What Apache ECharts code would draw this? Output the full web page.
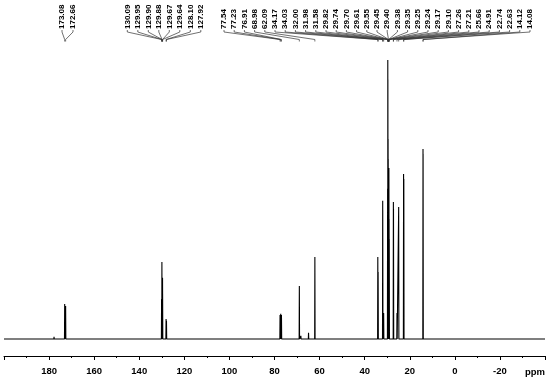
<!DOCTYPE html>
<html>
<head>
<meta charset="utf-8">
<script src="https://cdn.jsdelivr.net/npm/echarts@6/dist/echarts.min.js"></script>
<style>html,body{margin:0;padding:0;background:#fff}#c{width:550px;height:380px}</style>
</head>
<body>
<div id="c"></div>
<script>
// ---- data ----
// labelled peaks: chemical shift (ppm) and peak height (relative, tallest = 100)
const peakGroup1 = [173.08, 172.66];
const peakGroup2 = [130.09, 129.95, 129.90, 129.88, 129.67, 129.64, 128.10, 127.92];
const peakGroup3 = [77.54, 77.23, 76.91, 68.98, 62.09, 34.17, 34.03, 32.00, 31.98, 31.58,
  29.82, 29.74, 29.70, 29.61, 29.55, 29.45, 29.40, 29.38, 29.35, 29.25, 29.24, 29.17, 29.10,
  27.26, 27.21, 25.66, 24.91, 22.74, 22.63, 14.12, 14.08];
const heightGroup1 = [12.5, 11.8];
const heightGroup2 = [14.3, 27.6, 18.0, 19.7, 21.9, 16.1, 7.2, 6.5];
const heightGroup3 = [8.6, 9.0, 8.6, 19.0, 29.4, 29.4, 24.0, 49.5, 46.0, 9.3,
  53.8, 100, 93.0, 71.7, 64.5, 57.3, 53.8, 50.2, 50.2, 61.3, 57.3, 43.0, 35.8,
  49.1, 46.6, 9.3, 47.3, 59.1, 57.3, 68.1, 66.3];
// small unlabelled peaks
const minorPpm = [177.8, 68.3, 64.9];
const minorHeight = [0.8, 1.1, 2.2];
// x axis
const axisMin = -40, axisMax = 200, axisStep = 20;
const axisUnit = 'ppm';

// ---- build spectrum ----
const allPeaks = [];
[[peakGroup1, heightGroup1], [peakGroup2, heightGroup2], [peakGroup3, heightGroup3], [minorPpm, minorHeight]]
  .forEach(([p, h]) => p.forEach((v, i) => allPeaks.push([v, h[i]])));
allPeaks.sort((a, b) => b[0] - a[0]);
const halfWidth = 0.09;
const lineData = [[axisMax, 0]];
allPeaks.forEach(([p, h]) => {
  lineData.push([p + halfWidth, 0], [p, h], [p - halfWidth, 0]);
});
lineData.push([axisMin, 0]);

const chart = echarts.init(document.getElementById('c'), null, {renderer: 'canvas'});
const font = 'Liberation Sans, Arial, sans-serif';
chart.setOption({
  animation: false,
  backgroundColor: '#ffffff',
  grid: {left: 4, right: 5, top: 56, bottom: 24},
  xAxis: {
    type: 'value', min: axisMin, max: axisMax, interval: axisStep, inverse: true,
    splitLine: {show: false},
    axisLine: {show: true, onZero: false, lineStyle: {color: '#000', width: 1}},
    axisTick: {show: true, length: 4, lineStyle: {color: '#000', width: 1}},
    minorTick: {show: true, splitNumber: 2, length: 2, lineStyle: {color: '#000', width: 1}},
    axisLabel: {showMinLabel: false, showMaxLabel: false, margin: 10, color: '#000',
      fontSize: 9.5, fontWeight: 'bold', fontFamily: font}
  },
  yAxis: {type: 'value', min: -6.1, max: 101.4, show: false, splitLine: {show: false}},
  series: [{
    type: 'line', data: lineData, symbol: 'none', silent: true,
    lineStyle: {color: '#000', width: 1.1}
  }]
});

// ---- peak labels at top ----
const groupLayout = [
  {peaks: peakGroup1, start: 62, step: 11},
  {peaks: peakGroup2, start: 127.3, step: 10.5},
  {peaks: peakGroup3, start: 224, step: 10.2}
];
const elements = [];
groupLayout.forEach(g => {
  g.peaks.forEach((p, i) => {
    const lx = g.start + i * g.step;
    const px = chart.convertToPixel({xAxisIndex: 0}, p);
    elements.push({
      type: 'text', x: lx, y: 29, rotation: Math.PI / 2, silent: true,
      style: {text: p.toFixed(2), x: 0, y: 0, align: 'left', verticalAlign: 'middle',
        font: 'bold 8px ' + font, fill: '#000'}
    });
    elements.push({
      type: 'polyline', silent: true,
      shape: {points: [[lx, 30], [lx, 32], [px, 39.5], [px, 41.5]]},
      style: {stroke: '#333', lineWidth: 0.7, fill: null}
    });
  });
});
elements.push({
  type: 'text', x: 545, y: 372, silent: true,
  style: {text: axisUnit, align: 'right', verticalAlign: 'middle', font: 'bold 9.5px ' + font, fill: '#000'}
});
chart.setOption({graphic: {elements: elements}});
</script>
</body>
</html>
